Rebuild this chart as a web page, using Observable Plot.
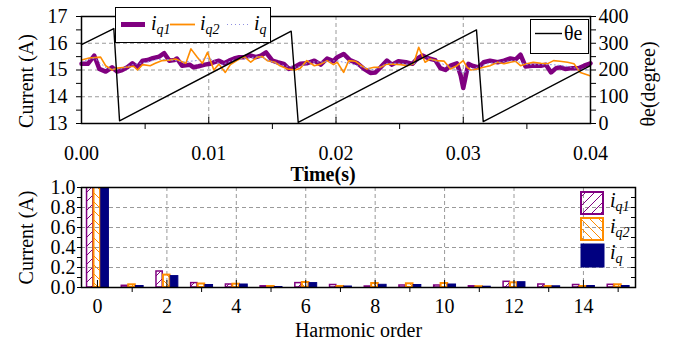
<!DOCTYPE html>
<html>
<head>
<meta charset="utf-8">
<script src="https://cdn.jsdelivr.net/npm/d3@7"></script>
<script src="https://cdn.jsdelivr.net/npm/@observablehq/plot@0.6"></script>
<style>
  html, body { margin: 0; padding: 0; background: #fff; }
  #fig { position: relative; width: 679px; height: 341px; font-family: "Liberation Serif", "Times New Roman", serif; }
  #fig svg { display: block; }
  .legend { position: absolute; overflow: visible; }
  .legend text { font-family: "Liberation Serif", serif; fill: #000; }
</style>
</head>
<body>
<svg width="0" height="0" style="position:absolute">
  <defs>
    <pattern id="hatchPurple" patternUnits="userSpaceOnUse" width="9" height="9">
      <path d="M-2,2 l4,-4 M0,9 l9,-9 M7,11 l4,-4" stroke="#800080" stroke-width="1"/>
    </pattern>
    <pattern id="hatchOrange" patternUnits="userSpaceOnUse" width="9" height="9">
      <path d="M-2,7 l4,4 M0,0 l9,9 M7,-2 l4,4" stroke="#ff8c00" stroke-width="1"/>
    </pattern>
  </defs>
</svg>
<div id="fig"></div>
<script>
// ---- time-domain q-axis currents (A) ----
const iq1Time = [0.0000,0.0005,0.0010,0.0014,0.0019,0.0024,0.0028,0.0032,0.0036,0.0040,0.0044,0.0048,0.0052,0.0056,0.0061,0.0065,0.0069,0.0073,0.0075,0.0079,0.0085,0.0088,0.0092,0.0097,0.0101,
  0.0104,0.0108,0.0112,0.0116,0.0120,0.0124,0.0128,0.0133,0.0137,0.0141,0.0145,0.0150,0.0154,0.0159,0.0163,0.0167,0.0172,0.0177,0.0183,0.0188,0.0193,0.0198,
  0.0201,0.0206,0.0211,0.0217,0.0222,0.0227,0.0231,0.0235,0.0240,0.0244,0.0249,0.0255,0.0260,0.0264,0.0268,0.0273,0.0278,0.0282,0.0286,0.0290,0.0295,0.0298,0.0300,
  0.0304,0.0307,0.0312,0.0316,0.0321,0.0327,0.0332,0.0337,0.0341,0.0345,0.0349,0.0354,0.0361,0.0365,0.0369,0.0373,0.0376,0.0380,0.0386,0.0391,0.0395,0.0400];
const iq1Values = [15.23,15.23,15.54,15.04,14.94,15.10,14.94,15.00,15.10,15.25,15.10,15.35,15.37,15.44,15.50,15.63,15.35,15.37,15.43,15.16,15.20,15.10,15.14,15.20,15.23,
  15.29,15.35,15.25,15.35,15.43,15.48,15.48,15.54,15.48,15.54,15.66,15.35,15.29,15.23,15.04,15.10,15.23,15.25,15.35,15.20,15.43,15.33,
  15.48,15.60,15.37,15.25,15.04,14.89,14.91,15.10,15.35,15.20,15.33,15.29,15.23,15.43,15.54,15.43,15.37,15.07,15.00,15.16,15.25,14.79,14.33,
  15.23,15.16,15.10,15.29,15.35,15.29,15.35,15.43,15.39,15.57,15.13,15.16,15.16,15.20,14.91,15.07,15.10,15.04,15.07,15.07,15.16,15.25];

const iq2Time = [0.0000,0.0006,0.0015,0.0019,0.0024,0.0028,0.0035,0.0041,0.0044,0.0048,0.0054,0.0058,0.0063,0.0069,0.0074,0.0077,0.0082,0.0086,0.0091,0.0095,0.0099,
  0.0104,0.0108,0.0113,0.0117,0.0122,0.0128,0.0133,0.0138,0.0142,0.0146,0.0152,0.0156,0.0162,0.0168,0.0172,0.0177,0.0183,0.0188,0.0193,0.0198,
  0.0201,0.0206,0.0210,0.0215,0.0220,0.0224,0.0230,0.0235,0.0240,0.0245,0.0251,0.0256,0.0261,0.0265,0.0270,0.0274,0.0279,0.0285,0.0290,0.0295,0.0300,
  0.0303,0.0306,0.0311,0.0316,0.0321,0.0327,0.0332,0.0337,0.0341,0.0345,0.0350,0.0355,0.0361,0.0366,0.0371,0.0376,0.0382,0.0387,0.0392,0.0399];
const iq2Values = [15.37,15.45,15.48,15.16,15.00,15.07,15.10,15.14,15.00,15.20,15.16,15.25,15.35,15.37,15.41,15.35,15.25,15.79,15.48,15.25,15.66,
  15.00,15.22,14.91,15.20,15.35,15.50,15.29,15.48,15.50,15.35,15.29,15.16,15.04,15.00,15.07,15.35,15.16,15.22,15.35,15.20,
  15.29,14.91,15.35,15.33,15.16,15.04,15.10,15.10,15.22,15.22,15.20,15.16,15.23,15.85,15.29,15.41,15.35,15.33,15.04,15.16,15.35,
  15.10,15.00,15.04,15.10,15.16,15.29,15.23,15.29,15.33,15.16,15.23,15.29,15.25,15.23,15.35,15.33,15.29,15.23,14.91,14.79];

const iqTime = [0.000,0.001,0.002,0.003,0.004,0.005,0.006,0.007,0.008,0.009,0.010,0.011,0.012,0.013,0.014,0.015,0.016,0.017,0.018,0.019,0.020,
  0.021,0.022,0.023,0.024,0.025,0.026,0.027,0.028,0.029,0.030,0.031,0.032,0.033,0.034,0.035,0.036,0.037,0.038,0.039,0.040];
const iqValues = [15.30,15.45,15.05,15.02,15.20,15.28,15.40,15.38,15.30,15.35,15.45,15.20,15.38,15.45,15.50,15.30,15.15,15.10,15.30,15.30,15.35,
  15.25,15.12,15.00,15.25,15.25,15.20,15.50,15.30,15.10,14.90,15.08,15.25,15.30,15.36,15.20,15.20,15.20,15.15,15.05,15.00];

// ---- electrical angle (degree) ----
const thetaTime = [0, 0.00254, 0.00299, 0.01648, 0.01703, 0.03104, 0.03157, 0.04];
const thetaDeg = [295, 355, 10, 345, 4, 350, 7, 216];

// ---- harmonic spectrum (A) ----
const harmonics = [0,1,2,3,4,5,6,7,8,9,10,11,12,13,14,15];
const iq1Amp = [15.25,0.017,0.160,0.044,0.030,0.012,0.044,0.025,0.010,0.020,0.020,0.012,0.057,0.030,0.025,0.027];
const iq2Amp = [15.22,0.027,0.124,0.035,0.033,0.010,0.050,0.010,0.040,0.037,0.040,0.008,0.047,0.010,0.010,0.027];
const iqAmp  = [15.24,0.015,0.114,0.025,0.030,0.005,0.044,0.010,0.027,0.025,0.030,0.008,0.053,0.012,0.015,0.015];

const timeTicks = [0, 0.01, 0.02, 0.03, 0.04];
const timeMinor = [0.005, 0.015, 0.025, 0.035];
const currentTicks = [13, 14, 15, 16, 17];
const harmonicTicks = [0, 2, 4, 6, 8, 10, 12, 14];
const harmonicMinor = [1, 3, 5, 7, 9, 11, 13, 15];
const ampTicks = [0, 0.2, 0.4, 0.6, 0.8, 1.0];

const PURPLE = "#800080", ORANGE = "#ff8c00", NAVY = "#000080";
const FONT = "Liberation Serif, Times New Roman, serif";

const series = (ts, vs) => ts.map((t, i) => ({t, v: vs[i]}));
const iq1Data = series(iq1Time, iq1Values);
const iq2Data = series(iq2Time, iq2Values);
const iqData = series(iqTime, iqValues);
const thetaData = series(thetaTime, thetaDeg);
// angle shares the current axis: 0..400 degree maps onto 13..17 A
const thetaToY = d => 13 + d.v / 100;

const topW = 679, topH = 180, topML = 81, topMR = 89, topMT = 16, topMB = 57;
const topInnerH = topH - topMT - topMB;

const timeChart = Plot.plot({
  width: topW, height: topH,
  marginLeft: topML, marginRight: topMR, marginTop: topMT, marginBottom: topMB,
  style: {fontFamily: FONT, fontSize: "20px", color: "#000", background: "#fff", overflow: "visible"},
  x: {domain: [0, 0.04]},
  y: {domain: [13, 17]},
  marks: [
    Plot.gridY([14, 15, 16], {stroke: "#9a9a9a", strokeOpacity: 1, strokeDasharray: "4,3"}),
    Plot.gridX([0.01, 0.02, 0.03], {stroke: "#9a9a9a", strokeOpacity: 1, strokeDasharray: "4,3"}),
    Plot.line(iq1Data, {x: "t", y: "v", stroke: PURPLE, strokeWidth: 4.5, strokeLinejoin: "round"}),
    Plot.line(iq2Data, {x: "t", y: "v", stroke: ORANGE, strokeWidth: 1.6}),
    Plot.line(iqData, {x: "t", y: "v", stroke: "#8f8fe0", strokeWidth: 1, strokeDasharray: "1,3"}),
    Plot.line(thetaData, {x: "t", y: thetaToY, stroke: "#000", strokeWidth: 1.4}),
    // bottom axis
    Plot.axisX({ticks: timeTicks, tickFormat: d3.format(".2f"), tickSize: 0, tickPadding: 22, label: null}),
    Plot.axisX({ticks: timeMinor, tickSize: 6, text: null, label: null}),
    Plot.tickX(timeTicks, {x: d => d, insetTop: topInnerH - 6, stroke: "#000"}),
    // left current axis
    Plot.axisY({ticks: d3.range(13, 17.01, 0.5), tickSize: 5, text: null, label: null}),
    Plot.axisY({ticks: currentTicks, tickSize: 0, tickPadding: 14, tickFormat: d => d, label: null}),
    // right angle axis
    Plot.axisY({anchor: "right", ticks: d3.range(13, 17.01, 0.5), tickSize: 5, text: null, label: null}),
    Plot.axisY({anchor: "right", ticks: currentTicks, tickSize: 0, tickPadding: 8,
      tickFormat: v => Math.round((v - 13) * 100), label: null}),
    Plot.frame({stroke: "#000", strokeWidth: 1.5}),
    Plot.text(["Current (A)"], {frameAnchor: "left", text: d => d, rotate: -90, textAnchor: "middle",
      lineAnchor: "bottom", dx: -49, dy: 11, fontSize: 20, fill: "#000"}),
    Plot.text(["θe(degree)"], {frameAnchor: "right", text: d => d, rotate: -90, textAnchor: "middle",
      lineAnchor: "bottom", dx: 64, dy: 14, fontSize: 20, fill: "#000"}),
    Plot.text(["Time(s)"], {frameAnchor: "bottom", text: d => d, lineAnchor: "bottom", dy: 57, dx: -13,
      fontSize: 20, fontWeight: "bold", fill: "#000"})
  ]
});

// ---- spectrum ----
const botW = 679, botH = 161, botML = 81, botMR = 44, botMT = 7, botMB = 54;
const botInnerH = botH - botMT - botMB;
const botInnerW = botW - botML - botMR;

const bars = (amp) => harmonics.map((h, i) => ({h, v: amp[i]}));

const spectrumChart = Plot.plot({
  width: botW, height: botH,
  marginLeft: botML, marginRight: botMR, marginTop: botMT, marginBottom: botMB,
  style: {fontFamily: FONT, fontSize: "20px", color: "#000", background: "#fff", overflow: "visible"},
  x: {domain: [-0.46, 15.5]},
  y: {domain: [0, 1]},
  marks: [
    Plot.gridY([0.2, 0.4, 0.6, 0.8], {stroke: "#9a9a9a", strokeOpacity: 1, strokeDasharray: "4,3"}),
    Plot.gridX([2, 4, 6, 8, 10, 12, 14], {stroke: "#9a9a9a", strokeOpacity: 1, strokeDasharray: "4,3"}),
    Plot.rect(bars(iq1Amp), {x1: d => d.h - 0.30, x2: d => d.h - 0.12, y1: 0, y2: "v",
      fill: "url(#hatchPurple)", stroke: PURPLE, strokeWidth: 1.5, clip: true}),
    Plot.rect(bars(iq2Amp), {x1: d => d.h - 0.10, x2: d => d.h + 0.09, y1: 0, y2: "v",
      fill: "url(#hatchOrange)", stroke: ORANGE, strokeWidth: 2, clip: true}),
    Plot.rect(bars(iqAmp), {x1: d => d.h + 0.11, x2: d => d.h + 0.33, y1: 0, y2: "v",
      fill: NAVY, stroke: NAVY, strokeWidth: 1, clip: true}),
    Plot.axisX({ticks: harmonicTicks, tickSize: 0, tickPadding: 11, tickFormat: d => d, label: null}),
    Plot.axisX({ticks: harmonicMinor, tickSize: 5, text: null, label: null}),
    Plot.tickX(harmonicTicks, {x: d => d, insetTop: botInnerH - 7, stroke: "#000"}),
    Plot.axisY({ticks: d3.range(0, 1.001, 0.1), tickSize: 4, text: null, label: null}),
    Plot.axisY({ticks: ampTicks, tickSize: 0, tickPadding: 6, tickFormat: d3.format(".1f"), label: null}),
    Plot.tickY(d3.range(0.1, 1, 0.1), {y: d => d, insetLeft: botInnerW - 4, stroke: "#000"}),
    Plot.frame({stroke: "#000", strokeWidth: 1.5}),
    Plot.text(["Current (A)"], {frameAnchor: "left", text: d => d, rotate: -90, textAnchor: "middle",
      lineAnchor: "bottom", dx: -49, dy: 0, fontSize: 20, fill: "#000"}),
    Plot.text(["Harmonic order"], {frameAnchor: "bottom", text: d => d, lineAnchor: "bottom", dy: 49, dx: 0,
      fontSize: 20, fill: "#000"})
  ]
});

const fig = document.getElementById("fig");
fig.appendChild(timeChart);
fig.appendChild(spectrumChart);

// ---- legends ----
const NS = "http://www.w3.org/2000/svg";
function el(name, attrs, parent) {
  const e = document.createElementNS(NS, name);
  for (const k in attrs) e.setAttribute(k, attrs[k]);
  if (parent) parent.appendChild(e);
  return e;
}
function legendSvg(left, topPx, w, h) {
  const s = el("svg", {width: w, height: h, class: "legend"});
  s.style.left = left + "px"; s.style.top = topPx + "px";
  fig.appendChild(s);
  return s;
}
function subLabel(parent, x, y, sub) {
  const t = el("text", {x, y, "font-size": 20, "font-style": "italic"}, parent);
  t.textContent = "i";
  const ts = el("tspan", {"font-size": 14, dy: 4}, t);
  ts.textContent = sub;
  return t;
}

// current legend
const lg1 = legendSvg(115, 7, 156, 36);
el("rect", {x: 0.5, y: 0.5, width: 155, height: 35, fill: "#fff", stroke: "#000", "stroke-width": 1}, lg1);
el("line", {x1: 6, x2: 30, y1: 17.5, y2: 17.5, stroke: PURPLE, "stroke-width": 5}, lg1);
subLabel(lg1, 36, 23, "q1");
el("line", {x1: 55, x2: 80, y1: 17.5, y2: 17.5, stroke: ORANGE, "stroke-width": 1.8}, lg1);
subLabel(lg1, 85, 23, "q2");
el("line", {x1: 112, x2: 134, y1: 17.5, y2: 17.5, stroke: "#8f8fe0", "stroke-width": 1, "stroke-dasharray": "1,3"}, lg1);
subLabel(lg1, 139, 23, "q");

// angle legend
const lg2 = legendSvg(530, 19, 59, 35);
el("rect", {x: 0.5, y: 0.5, width: 58, height: 34, fill: "#fff", stroke: "#000", "stroke-width": 1}, lg2);
el("line", {x1: 5, x2: 32, y1: 14.5, y2: 14.5, stroke: "#000", "stroke-width": 1.4}, lg2);
const th = el("text", {x: 34, y: 21, "font-size": 20}, lg2);
th.textContent = "θe";

// spectrum legend
const lg3 = legendSvg(579, 190, 80, 80);
el("rect", {x: 2, y: 2, width: 22, height: 22, fill: "url(#hatchPurple)", stroke: PURPLE, "stroke-width": 2}, lg3);
subLabel(lg3, 31, 17, "q1");
el("rect", {x: 2, y: 28, width: 22, height: 22, fill: "url(#hatchOrange)", stroke: ORANGE, "stroke-width": 2}, lg3);
subLabel(lg3, 31, 43, "q2");
el("rect", {x: 2, y: 54, width: 23, height: 23, fill: NAVY, stroke: NAVY, "stroke-width": 1}, lg3);
subLabel(lg3, 31, 69, "q");
</script>
</body>
</html>
